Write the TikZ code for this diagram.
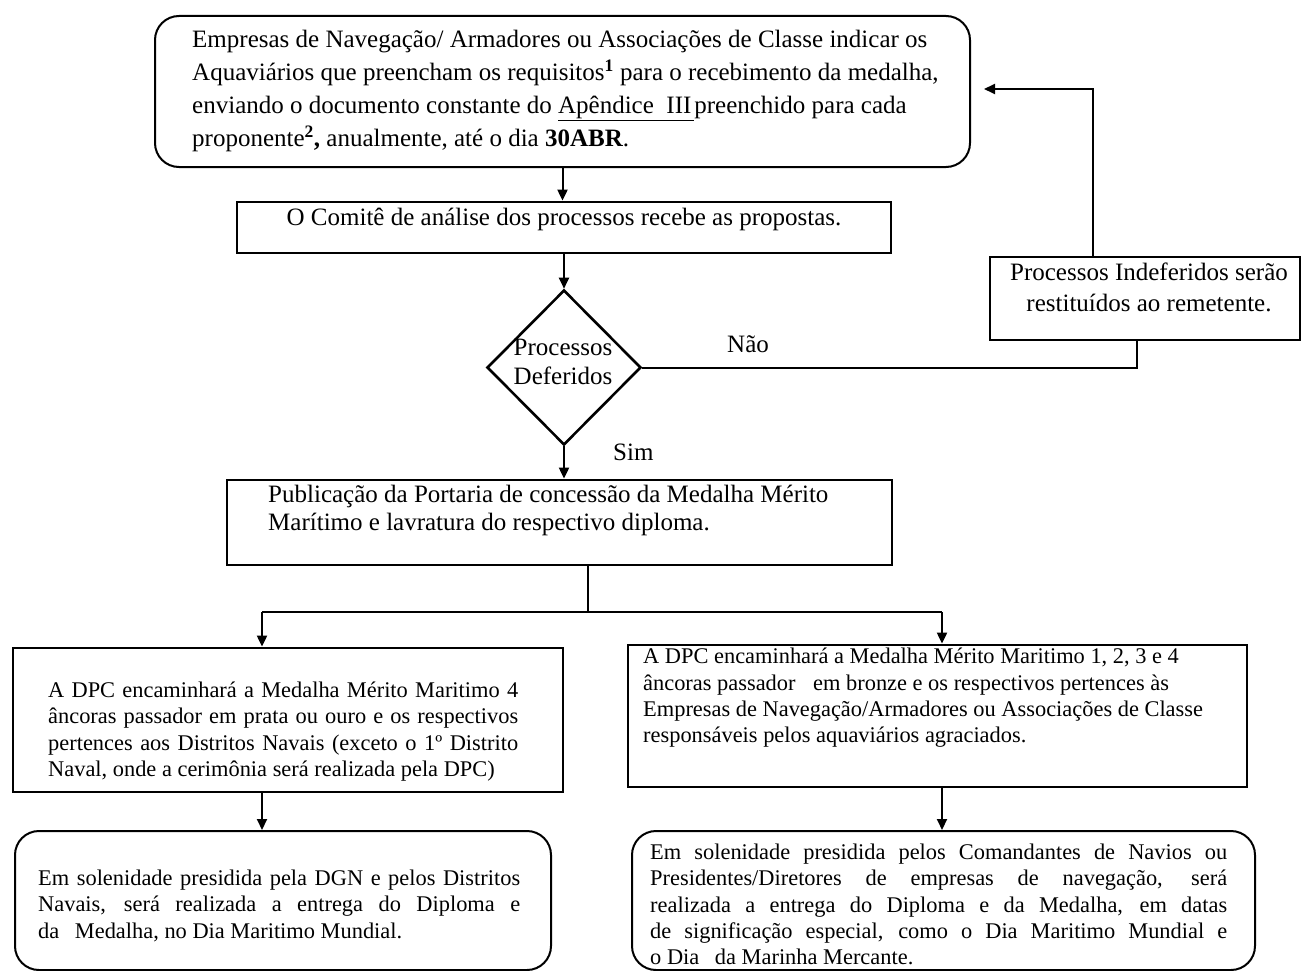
\documentclass[tikz,border=0pt]{standalone}
\usepackage{fontspec}
\setmainfont{Liberation Serif}
\usetikzlibrary{shapes.geometric,arrows.meta,calc}
\begin{document}
\begin{tikzpicture}[x=1pt,y=-1pt,
  rect/.style={draw,line width=2.8pt,inner sep=0pt},
  rnd/.style={draw,line width=2pt,rounded corners=24pt,inner sep=0pt},
  link/.style={line width=2pt},
  arr/.style={link,-{Triangle[length=11pt,width=10pt]}},
  big/.style={font=\fontsize{25}{33}\selectfont},
  small/.style={font=\fontsize{22.4}{26.3}\selectfont},
  txt/.style={inner sep=0pt,anchor=north west,align=left},
]
\useasboundingbox (0,0) rectangle (1301,971);
\fill[white] (0,0) rectangle (1301,971);

% boxes
\node[rnd,minimum width=815pt,minimum height=151pt] (top) at (562.5,91.5) {};
\node[rect,minimum width=654pt,minimum height=51pt] (comite) at (564,227.5) {};
\node[draw,diamond,line width=2.6pt,inner sep=0pt,minimum width=154pt,minimum height=155pt] (dec) at (564,367.5) {};
\node[rect,minimum width=310pt,minimum height=83pt] (indef) at (1145,298.5) {};
\node[rect,minimum width=665pt,minimum height=85pt] (pub) at (559.5,522.5) {};
\node[rect,minimum width=550pt,minimum height=144pt] (lmid) at (288,720) {};
\node[rect,minimum width=619pt,minimum height=142pt] (rmid) at (937.5,716) {};
\node[rnd,minimum width=536pt,minimum height=139pt] (lbot) at (283,900.5) {};
\node[rnd,minimum width=623pt,minimum height=139pt] (rbot) at (943.5,900.5) {};

% texts
\node[txt,big] (ttop) at (192,23.9) {\strut Empresas de Navegação/ Armadores ou Associações de Classe indicar os\\
Aquaviários que preencham os requisitos\textsuperscript{\textbf{1}} para o recebimento da medalha,\\
enviando o documento constante do \underline{Apêndice\ \ III\kern3pt}preenchido para cada\\
proponente\textsuperscript{\textbf{2}}\textbf{,} anualmente, até o dia \textbf{30ABR}.};

\node[inner sep=0pt,anchor=base,big] (tcomite) at (564,225) {O Comitê de análise dos processos recebe as propostas.};

\node[inner sep=0pt,anchor=north,align=center,font=\fontsize{25}{29}\selectfont] (tdec) at (563,334.7) {\strut Processos\\Deferidos};

\node[inner sep=0pt,anchor=north,align=center,font=\fontsize{25}{31}\selectfont] (tindef) at (1149,258.3) {\strut Processos Indeferidos serão\\restituídos ao remetente.};

\node[inner sep=0pt,anchor=base west,big] (nao) at (727,352) {Não};
\node[inner sep=0pt,anchor=base west,big] (sim) at (613,460) {Sim};

\node[txt,font=\fontsize{25}{28}\selectfont] (tpub) at (268,482.4) {\strut Publicação da Portaria de concessão da Medalha Mérito\\
Marítimo e lavratura do respectivo diploma.};

\node[txt,small] (tlmid) at (48,678.8) {\strut\makebox[470pt][s]{A DPC encaminhará a Medalha Mérito Maritimo 4}\\
\makebox[470pt][s]{âncoras passador em prata ou ouro e os respectivos}\\
\makebox[470pt][s]{pertences aos Distritos Navais (exceto o 1º Distrito}\\
Naval, onde a cerimônia será realizada pela DPC)};

\node[txt,small] (trmid) at (643,645.3) {\strut A DPC encaminhará a Medalha Mérito Maritimo 1, 2, 3 e 4\\
âncoras passador\hspace{12pt} em bronze e os respectivos pertences às\\
Empresas de Navegação/Armadores ou Associações de Classe\\
responsáveis pelos aquaviários agraciados.};

\node[txt,small] (tlbot) at (38,866.8) {\strut\makebox[482pt][s]{Em solenidade presidida pela DGN e pelos Distritos}\\
\makebox[482pt][s]{Navais, será realizada a entrega do Diploma e}\\
da\hspace{10pt} Medalha, no Dia Maritimo Mundial.};

\node[txt,small] (trbot) at (650,840.8) {\strut\makebox[577pt][s]{Em solenidade presidida pelos Comandantes de Navios ou}\\
\makebox[577pt][s]{Presidentes/Diretores de empresas de navegação, será}\\
\makebox[577pt][s]{realizada a entrega do Diploma e da Medalha, em datas}\\
\makebox[577pt][s]{de significação especial, como o Dia Maritimo Mundial e}\\
o Dia\hspace{10pt} da Marinha Mercante.};

% connectors
\coordinate (split) at (588,612);
\coordinate (jl) at (262,612);
\coordinate (jr) at (942,612);
\draw[arr] (top.south) -- (top.south |- comite.north);
\draw[arr] (comite.south) -- (dec.north);
\draw[link] (dec.east) -| ([xshift=-8pt]indef.south);
\draw[arr] ([xshift=-52pt]indef.north) |- ([xshift=13pt,yshift=2.5pt]top.east);
\draw[arr] (dec.south) -- (dec.south |- pub.north);
\draw[link] (pub.south -| split) -- (split);
\draw[link] (jl) -- (jr);
\draw[arr] (jl) -- (jl |- lmid.north);
\draw[arr] (jr) -- (jr |- rmid.north);
\draw[arr] (jl |- lmid.south) -- (jl |- lbot.north);
\draw[arr] (jr |- rmid.south) -- (jr |- rbot.north);
\end{tikzpicture}
\end{document}
